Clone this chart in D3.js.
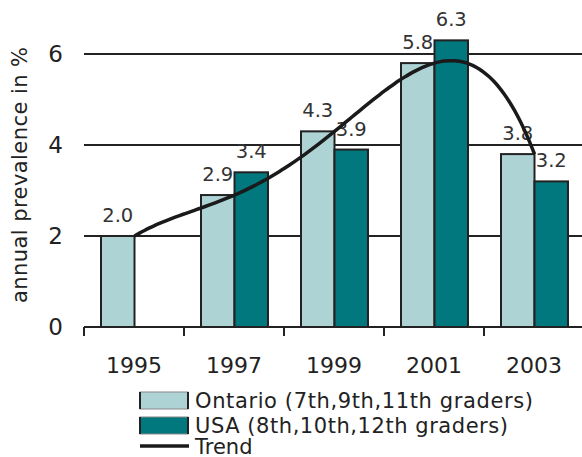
<!DOCTYPE html>
<html>
<head>
<meta charset="utf-8">
<script src="https://cdn.jsdelivr.net/npm/d3@7"></script>
<style>
  body { margin: 0; background: #fff; }
  svg { display: block; font-family: "DejaVu Sans", sans-serif; }
</style>
</head>
<body>
<script>
const years = ['1995', '1997', '1999', '2001', '2003'];
const ontario = [2.0, 2.9, 4.3, 5.8, 3.8];
const usa = [null, 3.4, 3.9, 6.3, 3.2];
const seriesNames = ['Ontario (7th,9th,11th graders)', 'USA (8th,10th,12th graders)'];
const yTicks = [0, 2, 4, 6];

const width = 582;
const height = 457;
const colors = ['#aed3d5', '#00787d'];

const svg = d3.select('body').append('svg')
    .attr('width', width)
    .attr('height', height);

const x = d3.scaleBand()
    .domain(years)
    .range([84, 584]);

const x1 = d3.scaleBand()
    .domain([0, 1])
    .range([17, 84]);

const y = d3.scaleLinear()
    .domain([0, 6])
    .range([327, 54]);

// gridlines
svg.append('g')
    .selectAll('line')
    .data(yTicks.filter(d => d > 0))
    .join('line')
        .attr('x1', 84)
        .attr('x2', width)
        .attr('y1', d => y(d))
        .attr('y2', d => y(d))
        .attr('stroke', '#222')
        .attr('stroke-width', 2);

// y tick labels
svg.append('g')
    .selectAll('text')
    .data(yTicks)
    .join('text')
        .attr('x', 63)
        .attr('y', d => y(d))
        .attr('dy', '0.36em')
        .attr('text-anchor', 'end')
        .attr('font-size', 23)
        .attr('fill', '#222')
        .text(d => d);

// y title
svg.append('text')
    .attr('transform', 'translate(27,175) rotate(-90)')
    .attr('text-anchor', 'middle')
    .attr('font-size', 21)
    .attr('textLength', 256)
    .attr('fill', '#222')
    .text('annual prevalence in %');

// bars
const rows = years.map((yr, i) => ({year: yr, values: [ontario[i], usa[i]]}));

const groups = svg.append('g')
    .selectAll('g')
    .data(rows)
    .join('g')
        .attr('transform', d => `translate(${x(d.year)},0)`);

groups.selectAll('rect')
    .data(d => d.values.map((v, s) => ({v, s})).filter(d => d.v != null))
    .join('rect')
        .attr('x', d => x1(d.s))
        .attr('y', d => y(d.v))
        .attr('width', x1.bandwidth())
        .attr('height', d => y(0) - y(d.v))
        .attr('fill', d => colors[d.s])
        .attr('stroke', '#222')
        .attr('stroke-width', 2);

groups.selectAll('text')
    .data(d => d.values.map((v, s) => ({v, s})).filter(d => d.v != null))
    .join('text')
        .attr('x', d => x1(d.s) + x1.bandwidth() / 2)
        .attr('y', d => y(d.v) - 14)
        .attr('text-anchor', 'middle')
        .attr('font-size', 19.5)
        .attr('fill', '#333')
        .text(d => d.v.toFixed(1));

// x axis
const xAxis = svg.append('g');
xAxis.append('line')
    .attr('x1', 84).attr('x2', width)
    .attr('y1', y(0)).attr('y2', y(0))
    .attr('stroke', '#222').attr('stroke-width', 2);
xAxis.selectAll('.tick')
    .data(years)
    .join('line')
        .attr('class', 'tick')
        .attr('x1', d => x(d)).attr('x2', d => x(d))
        .attr('y1', y(0)).attr('y2', y(0) + 9)
        .attr('stroke', '#222').attr('stroke-width', 2);
xAxis.selectAll('text')
    .data(years)
    .join('text')
        .attr('x', d => x(d) + x.bandwidth() / 2)
        .attr('y', 373)
        .attr('text-anchor', 'middle')
        .attr('font-size', 22)
        .attr('fill', '#222')
        .text(d => d);

// trend: 4th order polynomial through the Ontario values (like a spreadsheet trendline)
function poly(t) {
    let sum = 0;
    for (let i = 0; i < ontario.length; i++) {
        let term = ontario[i];
        for (let j = 0; j < ontario.length; j++) {
            if (j !== i) term *= (t - j) / (i - j);
        }
        sum += term;
    }
    return sum;
}
const xt = d3.scaleLinear()
    .domain([0, years.length - 1])
    .range([x(years[0]) + x1(0) + x1.bandwidth(), x(years[years.length - 1]) + x1(0) + x1.bandwidth()]);
const trend = d3.range(0, years.length - 1 + 0.001, 0.05).map(t => [t, poly(t)]);

svg.append('path')
    .datum(trend)
    .attr('fill', 'none')
    .attr('stroke', '#1a1a1a')
    .attr('stroke-width', 3.5)
    .attr('d', d3.line().x(d => xt(d[0])).y(d => y(d[1])).curve(d3.curveMonotoneX));

// legend
const legend = svg.append('g').attr('transform', 'translate(140,392)');
seriesNames.forEach((name, i) => {
    const g = legend.append('g').attr('transform', `translate(0,${i * 25})`);
    g.append('rect')
        .attr('width', 48).attr('height', 17)
        .attr('fill', colors[i])
        .attr('stroke', '#888').attr('stroke-width', 1);
    g.append('line').attr('x1', 0).attr('x2', 0).attr('y1', 0).attr('y2', 17)
        .attr('stroke', '#222').attr('stroke-width', 2);
    g.append('line').attr('x1', 48).attr('x2', 48).attr('y1', 0).attr('y2', 17)
        .attr('stroke', '#222').attr('stroke-width', 2);
    g.append('text')
        .attr('x', 55).attr('y', 8.5).attr('dy', '0.36em')
        .attr('font-size', 21).attr('fill', '#222')
        .attr('textLength', i === 0 ? 338 : 313)
        .text(name);
});
const tg = legend.append('g').attr('transform', 'translate(0,54)');
tg.append('line').attr('x1', 0).attr('x2', 49).attr('y1', 0).attr('y2', 0)
    .attr('stroke', '#1a1a1a').attr('stroke-width', 3.5);
tg.append('text')
    .attr('x', 55).attr('y', 0).attr('dy', '0.36em')
    .attr('font-size', 21).attr('fill', '#222')
    .text('Trend');
</script>
</body>
</html>
